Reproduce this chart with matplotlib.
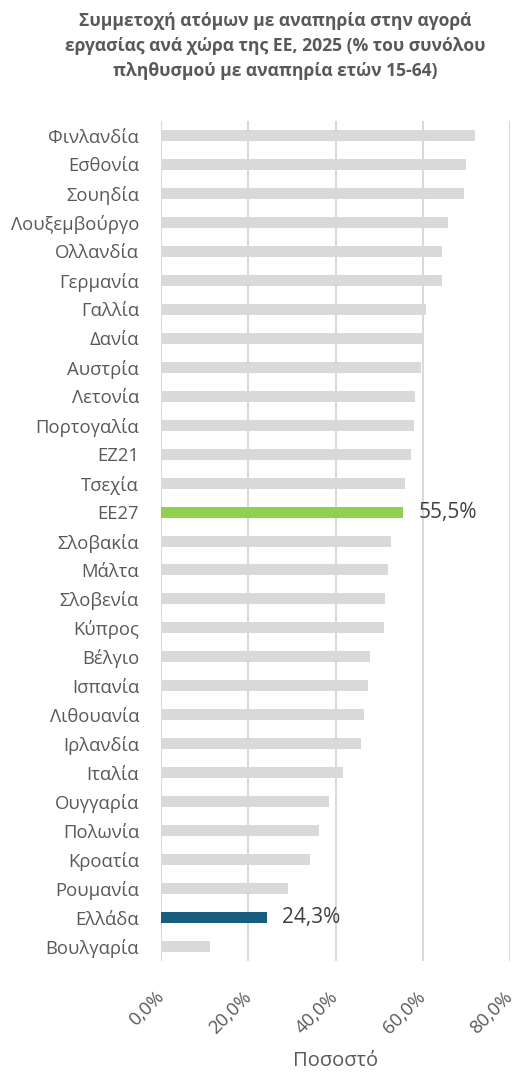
import matplotlib
matplotlib.use("Agg")
import matplotlib.pyplot as plt

plt.rcParams['font.family'] = ['Open Sans', 'DejaVu Sans']

countries = ["Φινλανδία", "Εσθονία", "Σουηδία", "Λουξεμβούργο", "Ολλανδία", "Γερμανία",
             "Γαλλία", "Δανία", "Αυστρία", "Λετονία", "Πορτογαλία", "ΕΖ21", "Τσεχία",
             "ΕΕ27", "Σλοβακία", "Μάλτα", "Σλοβενία", "Κύπρος", "Βέλγιο", "Ισπανία",
             "Λιθουανία", "Ιρλανδία", "Ιταλία", "Ουγγαρία", "Πολωνία", "Κροατία",
             "Ρουμανία", "Ελλάδα", "Βουλγαρία"]
values = [71.9, 69.8, 69.4, 65.7, 64.4, 64.3, 60.8, 60.0, 59.6, 58.1, 58.0, 57.2, 55.8,
          55.5, 52.6, 51.9, 51.3, 51.0, 47.8, 47.5, 46.4, 45.9, 41.6, 38.5, 36.2, 34.0,
          29.1, 24.3, 11.2]
xticks = [0, 20, 40, 60, 80]
xtick_labels = ["0,0%", "20,0%", "40,0%", "60,0%", "80,0%"]
highlight = {"ΕΕ27": "#92D050", "Ελλάδα": "#175E7E"}

title = ("Συμμετοχή ατόμων με αναπηρία στην αγορά\n"
         "εργασίας ανά χώρα της ΕΕ, 2025 (% του συνόλου\n"
         "πληθυσμού με αναπηρία ετών 15-64)")

fig = plt.figure(figsize=(5.16, 10.76), dpi=100)
ax = fig.add_axes([0.3126, 0.1069, 0.6758, 0.7806])

ypos = list(range(len(countries)))
colors = [highlight.get(c, "#D9D9D9") for c in countries]
ax.barh(ypos, values, height=0.38, color=colors, zorder=3)

for y, c, v in zip(ypos, countries, values):
    if c in highlight:
        ax.text(v + 3.5, y, f"{v:.1f}".replace(".", ",") + "%", va="center", ha="left",
                fontsize=15, color="#404040")

ax.set_ylim(len(countries) - 0.5, -0.5)
ax.set_xlim(0, 80)
ax.set_yticks(ypos)
ax.set_yticklabels(countries, fontsize=13.3, color="#595959")
ax.set_xticks(xticks)
ax.set_xticklabels(xtick_labels, fontsize=13.3, color="#595959", rotation=45,
                   ha="right", va="center", rotation_mode="anchor")
ax.tick_params(axis="both", length=0)
ax.tick_params(axis="y", pad=16)
ax.tick_params(axis="x", pad=24)
ax.grid(axis="x", color="#D9D9D9", linewidth=1.5, zorder=0)
for s in ax.spines.values():
    s.set_visible(False)

ax.set_xlabel("Ποσοστό", fontsize=14.5, color="#595959", labelpad=10)

fig.text(0.533, 0.9885, title, ha="center", va="top", fontsize=12.6, fontweight="bold",
         color="#595959", linespacing=1.5)

fig.savefig("out.png", dpi=100)
